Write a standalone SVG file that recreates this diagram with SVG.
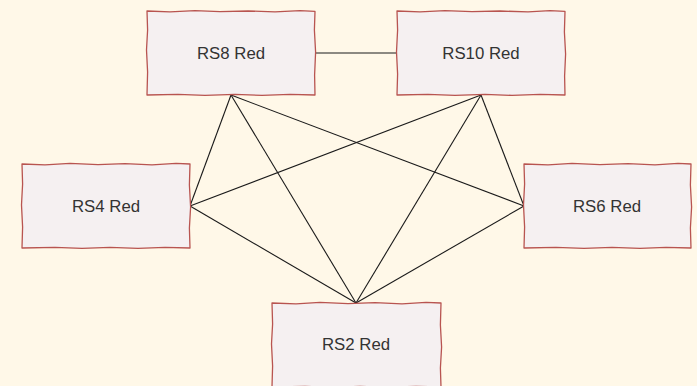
<svg xmlns="http://www.w3.org/2000/svg" width="697" height="386" viewBox="0 0 697 386">
<style>
.box{fill:#F5F0F1;stroke:#B85450;stroke-width:1.3;stroke-linejoin:round}
.lbl{font-family:"Liberation Sans",Arial,sans-serif;font-size:16.8px;fill:#333333;text-anchor:middle}
.edge{stroke:#1a1a1a;stroke-width:1.1;fill:none}
</style>
<rect width="697" height="386" fill="#FFF8E8"/>
<g id="connectors">
<line class="edge" x1="315" y1="53" x2="397" y2="53"/>
<line class="edge" x1="231" y1="95" x2="190" y2="206"/>
<line class="edge" x1="231" y1="95" x2="356" y2="303"/>
<line class="edge" x1="231" y1="95" x2="524" y2="206"/>
<line class="edge" x1="481" y1="95" x2="190" y2="206"/>
<line class="edge" x1="481" y1="95" x2="356" y2="303"/>
<line class="edge" x1="481" y1="95" x2="524" y2="206"/>
<line class="edge" x1="190" y1="206" x2="356" y2="303"/>
<line class="edge" x1="524" y1="206" x2="356" y2="303"/>
</g>
<g id="RS8">
<path class="box" d="M147 11 L170 11.8 L195 10.6 L220 11.7 L248 11 L275 11.9 L300 10.7 L315 11.4 L314.4 30 L315.6 52 L314.6 75 L315 95 L290 94.3 L262 95.4 L235 94.4 L205 95.3 L178 94.4 L147 95 L147.6 72 L146.5 50 L147.6 30 Z"/>
<text class="lbl" x="231" y="59">RS8 Red</text>
</g>
<g id="RS10">
<path class="box" d="M397 11 L420 11.9 L445 10.6 L472 11.7 L500 11 L528 11.9 L550 10.7 L565 11.4 L564.4 32 L565.6 54 L564.6 76 L565 95 L540 94.3 L512 95.4 L485 94.4 L455 95.3 L428 94.4 L397 95 L397.6 74 L396.5 52 L397.6 30 Z"/>
<text class="lbl" x="481" y="59">RS10 Red</text>
</g>
<g id="RS4">
<path class="box" d="M22 164 L45 164.8 L70 163.4 L98 164.7 L125 163.6 L152 164.8 L176 163.4 L190 164 L189.4 185 L190.6 207 L189.4 228 L190 248 L165 247.3 L138 248.4 L110 247.4 L82 248.4 L55 247.4 L22 248 L22.6 227 L21.5 205 L22.6 184 Z"/>
<text class="lbl" x="106" y="212">RS4 Red</text>
</g>
<g id="RS6">
<path class="box" d="M524 164 L548 164.8 L572 163.4 L600 164.7 L628 163.6 L655 164.8 L678 163.4 L691 164 L690.4 185 L691.6 207 L690.4 228 L691 248 L666 247.3 L640 248.4 L612 247.4 L584 248.4 L556 247.4 L524 248 L524.6 227 L523.5 205 L524.6 184 Z"/>
<text class="lbl" x="607" y="212">RS6 Red</text>
</g>
<g id="RS2">
<path class="box" d="M272 303 L296 303.8 L320 302.4 L348 303.7 L375 302.6 L402 303.8 L426 302.4 L441 303 L440.4 325 L441.6 347 L440.4 368 L441 387 L416 386.3 L388 387.4 L360 386.4 L332 387.4 L305 386.4 L272 387 L272.6 366 L271.5 344 L272.6 324 Z"/>
<text class="lbl" x="356" y="350">RS2 Red</text>
</g>
</svg>
